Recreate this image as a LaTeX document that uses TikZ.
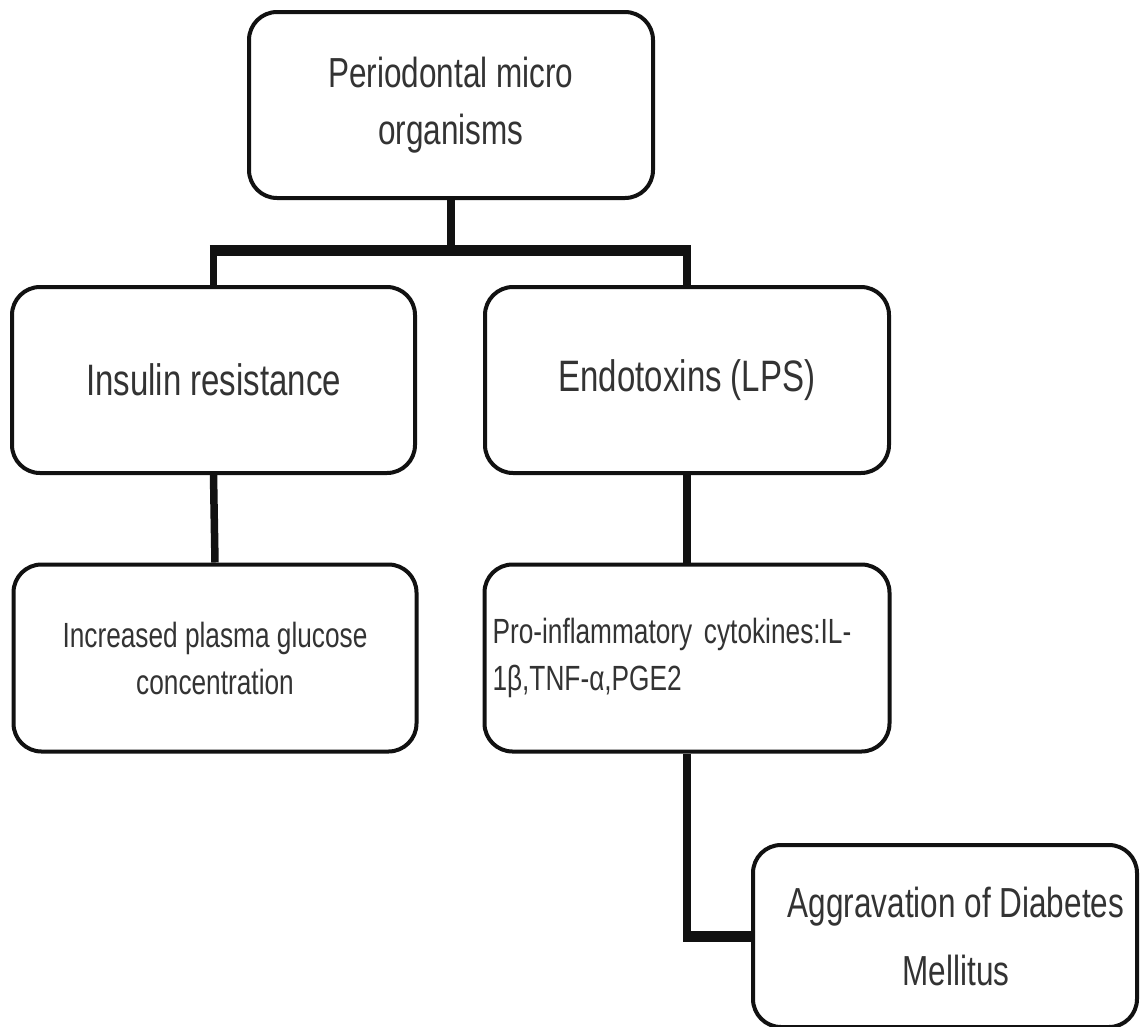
\documentclass[tikz,border=0pt]{standalone}
\usepackage{fontspec}
\setmainfont{Liberation Sans}[FakeStretch=0.75]
\usetikzlibrary{positioning}
\pgfdeclarelayer{background}
\pgfsetlayers{background,main}
\definecolor{ink}{HTML}{111111}
\definecolor{txt}{HTML}{333333}
\begin{document}
\begin{tikzpicture}[x=1pt,y=-1pt,
  box/.style={draw=ink, line width=4pt, fill=white, rounded corners=28pt,
    inner sep=0pt, text=txt, align=center},
  bigtext/.style={font=\fontsize{44}{60}\selectfont},
  midtext/.style={font=\fontsize{42}{57}\selectfont},
  smalltext/.style={font=\fontsize{35}{47}\selectfont},
  stem/.style={draw=ink, line width=7.5pt},
  heavy/.style={draw=ink, line width=11pt}]
\useasboundingbox (0,0) rectangle (1141,1026);

% boxes
\node[box, midtext, minimum width=404pt, minimum height=186pt] (top) at (451,105)
  {Periodontal micro\\organisms};
\node[box, bigtext, minimum width=403pt, minimum height=186pt] (ins) at (213.5,380)
  {Insulin resistance};
\node[box, bigtext, minimum width=404pt, minimum height=186pt] (endo) at (687,380)
  {Endotoxins (LPS)};
\node[box, smalltext, minimum width=403pt, minimum height=187pt] (inc) at (215,658)
  {Increased plasma glucose\\concentration};
\node[box, smalltext, align=left, text width=389pt, inner xsep=8pt,
  minimum height=187pt] (pro) at (687,658)
  {Pro-inflammatory cytokines:IL-\\1β,TNF-α,PGE2};
\node[box, midtext, font=\fontsize{42}{68}\selectfont, minimum width=384pt,
  minimum height=182pt] (agg) at (945,936)
  {\hspace*{22pt}Aggravation of Diabetes\\\hspace*{22pt}Mellitus};

% connectors
\coordinate (barl) at (213.5,250);
\coordinate (barr) at (687,250);
\coordinate (elbow) at (687,936);
\begin{pgfonlayer}{background}
  \draw[stem] (top.south) -- (top.south |- barl);
  \draw[heavy] ([xshift=-3.75pt]barl) -- ([xshift=3.75pt]barr);
  \draw[stem] (barl) -- (ins.north);
  \draw[stem] (barr) -- (endo.north);
  \draw[stem] (ins.south) -- (inc.north);
  \draw[stem] (endo.south) -- (pro.north);
  \draw[stem] (pro.south) -- ([yshift=5.5pt]elbow);
  \draw[heavy] ([xshift=-3.75pt]elbow) -- (agg.west);
\end{pgfonlayer}
\end{tikzpicture}
\end{document}
